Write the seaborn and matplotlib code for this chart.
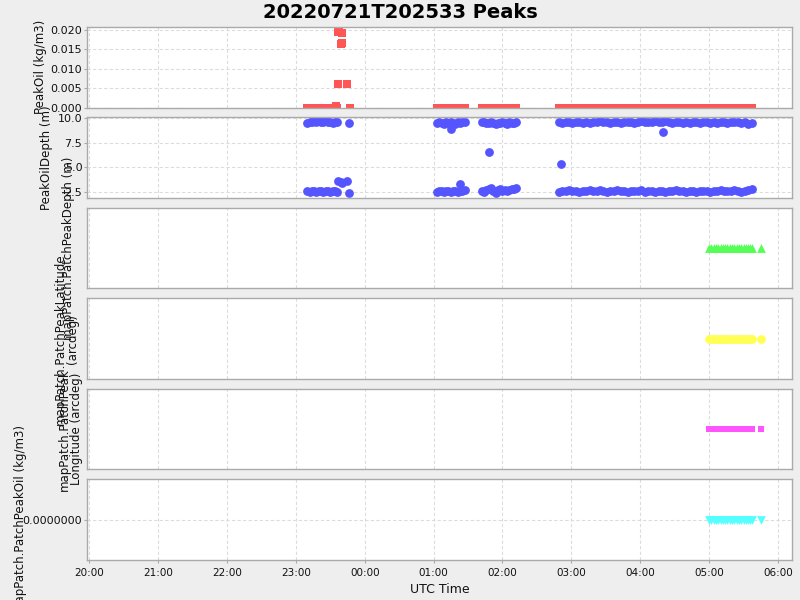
import matplotlib
matplotlib.use("Agg")
import matplotlib.pyplot as plt
import matplotlib.dates as mdates
import matplotlib.ticker as mticker
import seaborn as sns
import pandas as pd

# --- data ---
seg_a_times = ["23:10", "23:12", "23:14", "23:16", "23:18", "23:20", "23:22", "23:24",
               "23:26", "23:28", "23:30", "23:32", "23:34", "23:36"]
seg_a_upper = [9.5, 9.6, 9.6, 9.7, 9.6, 9.7, 9.6, 9.6, 9.7, 9.6, 9.6, 9.5, 9.6, 9.6]
seg_a_lower = [2.6, 2.5, 2.6, 2.6, 2.5, 2.6, 2.6, 2.5, 2.6, 2.6, 2.5, 2.6, 2.6, 2.5]

seg_b_times = ["01:03", "01:05", "01:07", "01:09", "01:11", "01:13", "01:15", "01:17",
               "01:19", "01:21", "01:23", "01:25", "01:27"]
seg_b_upper = [9.5, 9.6, 9.5, 9.4, 9.6, 9.5, 9.6, 9.5, 9.4, 9.6, 9.5, 9.6, 9.6]
seg_b_lower = [2.5, 2.6, 2.6, 2.5, 2.6, 2.6, 2.5, 2.6, 2.6, 2.5, 2.6, 2.6, 2.7]

seg_c_times = ["01:42", "01:44", "01:46", "01:48", "01:50", "01:52", "01:54", "01:56",
               "01:58", "02:00", "02:02", "02:04", "02:06", "02:08", "02:10", "02:12"]
seg_c_upper = [9.6, 9.6, 9.5, 9.5, 9.6, 9.5, 9.4, 9.5, 9.5, 9.6, 9.5, 9.4, 9.6, 9.5, 9.5, 9.6]
seg_c_lower = [2.6, 2.5, 2.7, 2.8, 2.9, 2.6, 2.4, 2.7, 2.8, 2.6, 2.7, 2.6, 2.7, 2.8, 2.8, 2.9]

seg_d_times = ["02:49", "02:52", "02:55", "02:58", "03:01", "03:04", "03:07", "03:10",
               "03:13", "03:16", "03:19", "03:22", "03:25", "03:28", "03:31", "03:34",
               "03:37", "03:40", "03:43", "03:46", "03:49", "03:52", "03:55", "03:58",
               "04:01", "04:04", "04:07", "04:10", "04:13", "04:16", "04:19", "04:22",
               "04:25", "04:28", "04:31", "04:34", "04:37", "04:40", "04:43", "04:46",
               "04:49", "04:52", "04:55", "04:58", "05:01", "05:04", "05:07", "05:10",
               "05:13", "05:16", "05:19", "05:22", "05:25", "05:28", "05:31", "05:34", "05:37"]
seg_d_upper = [9.6, 9.5, 9.6, 9.6, 9.5, 9.6, 9.6, 9.5, 9.6, 9.5,
               9.6, 9.6, 9.7, 9.6, 9.6, 9.5, 9.6, 9.6, 9.5, 9.6,
               9.6, 9.6, 9.5, 9.6, 9.7, 9.6, 9.6, 9.6, 9.7, 9.6,
               9.6, 9.7, 9.6, 9.5, 9.6, 9.6, 9.5, 9.6, 9.5, 9.6,
               9.6, 9.5, 9.6, 9.6, 9.5, 9.6, 9.5, 9.6, 9.6, 9.5,
               9.6, 9.6, 9.6, 9.5, 9.6, 9.4, 9.5]
seg_d_lower = [2.5, 2.6, 2.6, 2.7, 2.6, 2.6, 2.5, 2.6, 2.6, 2.7,
               2.6, 2.6, 2.7, 2.6, 2.5, 2.6, 2.6, 2.7, 2.6, 2.6,
               2.5, 2.6, 2.6, 2.6, 2.7, 2.5, 2.6, 2.6, 2.5, 2.6,
               2.6, 2.5, 2.6, 2.6, 2.7, 2.6, 2.6, 2.5, 2.6, 2.6,
               2.5, 2.6, 2.6, 2.6, 2.5, 2.6, 2.6, 2.7, 2.6, 2.6,
               2.6, 2.7, 2.6, 2.5, 2.6, 2.7, 2.8]

# odd depth points outside the two bands
extra_depth_times = ["23:37", "23:39", "23:40", "23:45", "23:46", "23:46",
                     "01:15", "01:23", "01:48", "02:51", "04:20"]
extra_depth_vals = [3.6, 3.5, 3.4, 3.6, 2.4, 9.5, 8.9, 3.3, 6.6, 5.3, 8.6]

# peak oil: zero along the whole track, plus a few spikes
oil_spike_times = ["23:35", "23:37", "23:38", "23:39", "23:40", "23:40", "23:37", "23:45", "23:47"]
oil_spike_vals = [0.0005, 0.0195, 0.0200, 0.0163, 0.0193, 0.0167, 0.0060, 0.0060, 0.0]

# patch series (constant values)
patch_times = ["05:00", "05:02", "05:04", "05:06", "05:08", "05:10", "05:12", "05:14",
               "05:16", "05:18", "05:20", "05:22", "05:24", "05:26", "05:28", "05:30",
               "05:32", "05:34", "05:36", "05:37", "05:45"]
patch_depth = [2.5] * len(patch_times)
patch_lat = [29.0] * len(patch_times)
patch_lon = [-88.0] * len(patch_times)
patch_oil = [0.0] * len(patch_times)


def to_ts(hhmm):
    day = "2022-07-21" if int(hhmm[:2]) >= 12 else "2022-07-22"
    return pd.Timestamp(f"{day} {hhmm}")


track_times = seg_a_times + seg_b_times + seg_c_times + seg_d_times
oil_df = pd.DataFrame({
    "time": [to_ts(t) for t in track_times + oil_spike_times],
    "oil": [0.0] * len(track_times) + oil_spike_vals,
})
depth_df = pd.DataFrame({
    "time": [to_ts(t) for t in track_times + track_times + extra_depth_times],
    "depth": (seg_a_upper + seg_b_upper + seg_c_upper + seg_d_upper
              + seg_a_lower + seg_b_lower + seg_c_lower + seg_d_lower + extra_depth_vals),
})
patch_df = pd.DataFrame({
    "time": [to_ts(t) for t in patch_times],
    "depth": patch_depth, "lat": patch_lat, "lon": patch_lon, "oil": patch_oil,
})

# --- figure ---
sns.set_theme(style="white")
plt.rcParams["font.family"] = ["DejaVu Sans"]

fig, axes = plt.subplots(6, 1, figsize=(8, 6), dpi=100, sharex=True)
fig.patch.set_facecolor("#eeeeee")
fig.subplots_adjust(left=0.109, right=0.99, top=0.955, bottom=0.0667, hspace=0.124)

sns.scatterplot(data=oil_df, x="time", y="oil", ax=axes[0], color="#ff5555",
                marker="s", s=36, linewidth=0)
sns.scatterplot(data=depth_df, x="time", y="depth", ax=axes[1], color="#5555ff",
                marker="o", s=40, linewidth=0)
sns.scatterplot(data=patch_df, x="time", y="depth", ax=axes[2], color="#55ff55",
                marker="^", s=40, linewidth=0)
sns.scatterplot(data=patch_df, x="time", y="lat", ax=axes[3], color="#ffff55",
                marker="o", s=40, linewidth=0)
sns.scatterplot(data=patch_df, x="time", y="lon", ax=axes[4], color="#ff55ff",
                marker="s", s=14, linewidth=0)
sns.scatterplot(data=patch_df, x="time", y="oil", ax=axes[5], color="#55ffff",
                marker="v", s=40, linewidth=0)

labels = ["PeakOil (kg/m3)", "PeakOilDepth (m)", "mapPatch.PatchPeakDepth (m)",
          "mapPatch.PatchPeakLatitude\n(arcdeg)", "mapPatch.PatchPeak\nLongitude (arcdeg)",
          "mapPatch.PatchPeakOil (kg/m3)"]
label_x = [-0.057, -0.048, -0.017, -0.012, -0.006, -0.085]

for ax, lab, lx in zip(axes, labels, label_x):
    ax.set_facecolor("white")
    ax.grid(True, color="#dcdcdc", linestyle=(0, (3, 2)), linewidth=0.8)
    for sp in ax.spines.values():
        sp.set_color("#aaaaaa")
        sp.set_linewidth(1.0)
    ax.set_ylabel(lab, fontsize=8.5, color="#111111", linespacing=0.9)
    ax.yaxis.set_label_coords(lx, 0.5)
    ax.set_xlabel("")
    ax.tick_params(axis="y", labelsize=8, colors="#111111", length=2, width=0.8, pad=1.5,
                   direction="out", left=True, color="#aaaaaa")
    ax.tick_params(axis="x", length=0)

axes[0].set_ylim(0, 0.0208)
axes[0].yaxis.set_major_locator(mticker.MultipleLocator(0.005))
axes[0].yaxis.set_major_formatter(mticker.FormatStrFormatter("%.3f"))

axes[1].set_ylim(1.9, 10.05)
axes[1].set_yticks([2.5, 5.0, 7.5, 10.0])
axes[1].yaxis.set_major_formatter(mticker.FormatStrFormatter("%.1f"))

for ax, v in zip(axes[2:5], [2.5, 29.0, -88.0]):
    ax.set_ylim(v - 1, v + 1)
    ax.set_yticks([])
    ax.grid(True, axis="x", color="#dcdcdc", linestyle=(0, (3, 2)), linewidth=0.8)
    ax.grid(False, axis="y")

axes[5].set_ylim(-1, 1)
axes[5].set_yticks([0.0])
axes[5].yaxis.set_major_formatter(mticker.FormatStrFormatter("%.7f"))

axes[5].set_xlim(pd.Timestamp("2022-07-21 19:58:15"), pd.Timestamp("2022-07-22 06:12:15"))
axes[5].xaxis.set_major_locator(mdates.HourLocator())
axes[5].xaxis.set_major_formatter(mdates.DateFormatter("%H:%M"))
axes[5].tick_params(axis="x", labelsize=7.5, colors="#111111", length=2, width=0.8,
                    bottom=True, color="#aaaaaa")
axes[5].set_xlabel("UTC Time", fontsize=9, color="#111111")

fig.suptitle("20220721T202533 Peaks", fontsize=14, fontweight="bold", color="black",
             y=0.995, x=0.5)

fig.savefig("out.png", dpi=100, facecolor=fig.get_facecolor())
